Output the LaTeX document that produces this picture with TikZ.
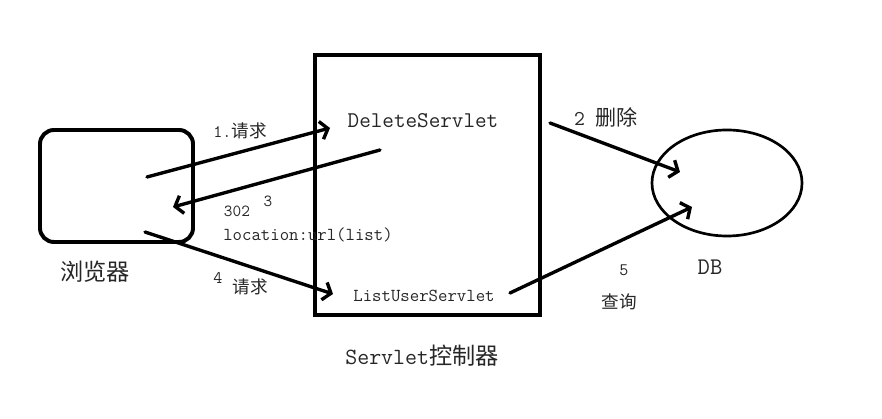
\documentclass[tikz,border=0pt]{standalone}
\usepackage{fontspec}
\newfontfamily\cjk{Noto Sans CJK SC}
\usetikzlibrary{arrows.meta,shapes.geometric}
\usepackage{tkz-euclide}

\tikzset{
  flow/.style={line width=2.4pt,-{Straight Barb[length=5pt,width=13pt]}},
  tag/.style={inner sep=0pt,text=black!85,font=\ttfamily\fontsize{13}{15}\selectfont},
  small/.style={inner sep=0pt,text=black!85,font=\ttfamily\fontsize{12.5}{15}\selectfont}
}

\begin{document}
\begin{tikzpicture}[x=0.025cm,y=0.025cm]
\useasboundingbox (0,0) rectangle (882,419);

% boxes
\node[draw,line width=2.8pt,rounded corners=10pt,minimum width=3.825cm,minimum height=2.8cm] (browser) at (116.5,233) {};
\node[draw,line width=2.4pt,minimum width=5.625cm,minimum height=6.5cm] (servlet) at (427.5,234) {};
\node[draw,ellipse,line width=1.9pt,inner sep=0pt,minimum width=3.75cm,minimum height=2.65cm] (db) at (727,236) {};

% arrows
\tkzDefPoints{147/242/A,330/291/B,380/269/C,173/212/D,145/187/E,333/125/F,550/296/G,680/247/H,510/126/I,692/212/J}
\tkzDrawSegments[flow](A,B C,D E,F G,H I,J)

% labels
\node[tag,font=\cjk\fontsize{16.5}{19}\selectfont] (lbrowser) at (95,147) {浏览器};
\node[tag,font=\ttfamily\fontsize{16}{19}\selectfont] (ldelete) at (423,298) {DeleteServlet};
\node[tag] (llist) at (424,123) {ListUserServlet};
\node[tag,font=\ttfamily\fontsize{16.5}{19}\selectfont] (lservlet) at (422,63) {Servlet{\cjk 控制器}};
\node[tag,font=\ttfamily\fontsize{17}{20}\selectfont] (ldb) at (710,152) {DB};

\node[small] (l1) at (240,288) {1.{\cjk 请求}};
\node[tag,font=\ttfamily\fontsize{12}{14}\selectfont] (l302) at (237,208) {302};
\node[tag,font=\ttfamily\fontsize{12}{14}\selectfont] (l3) at (268,218) {3};
\node[tag] (lloc) at (308,184) {location:url(list)};
\node[small] (l4) at (218,141) {4};
\node[small,font=\cjk\fontsize{12.5}{15}\selectfont] (l4b) at (250,132) {请求};
\node[small,font=\ttfamily\fontsize{15}{18}\selectfont] (l2) at (606,302) {2 {\cjk 删除}};
\node[small] (l5) at (624,149) {5};
\node[small,font=\cjk\fontsize{12.5}{15}\selectfont] (lquery) at (619,117) {查询};

\end{tikzpicture}
\end{document}
